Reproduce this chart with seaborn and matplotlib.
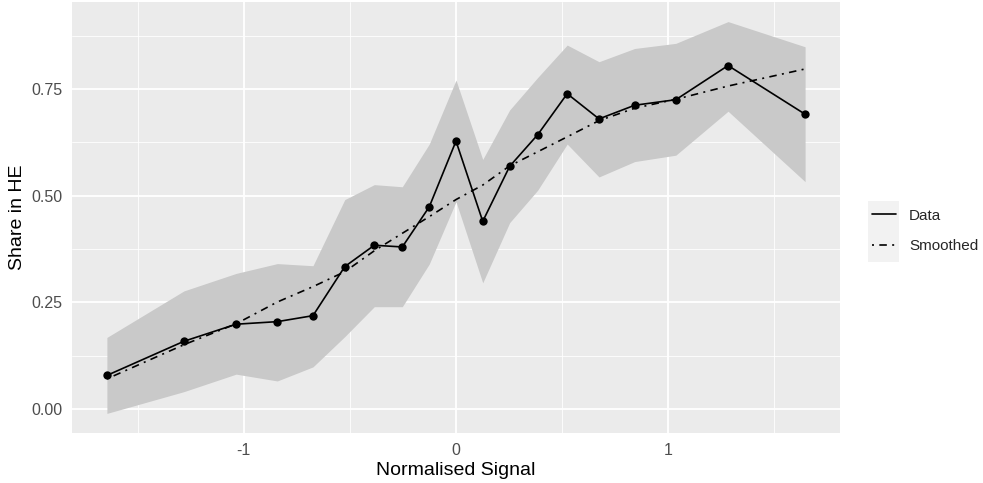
import numpy as np
import pandas as pd
import seaborn as sns
import matplotlib.pyplot as plt
from matplotlib.lines import Line2D
from matplotlib.patches import Rectangle

signal = [-1.645, -1.282, -1.036, -0.842, -0.674, -0.524, -0.385, -0.253, -0.126, 0.0,
          0.126, 0.253, 0.385, 0.524, 0.674, 0.842, 1.036, 1.282, 1.645]
share = [0.079, 0.159, 0.199, 0.205, 0.219, 0.334, 0.384, 0.380, 0.474, 0.628,
         0.440, 0.569, 0.643, 0.739, 0.680, 0.712, 0.725, 0.805, 0.691]
smoothed = [0.071, 0.151, 0.200, 0.251, 0.287, 0.322, 0.371, 0.412, 0.451, 0.491,
            0.525, 0.570, 0.603, 0.638, 0.676, 0.705, 0.726, 0.757, 0.797]
lower = [-0.010, 0.041, 0.082, 0.066, 0.099, 0.170, 0.240, 0.240, 0.340, 0.486,
         0.296, 0.437, 0.513, 0.621, 0.544, 0.580, 0.595, 0.698, 0.533]
upper = [0.168, 0.277, 0.318, 0.341, 0.336, 0.491, 0.526, 0.521, 0.621, 0.771,
         0.585, 0.701, 0.777, 0.853, 0.814, 0.845, 0.857, 0.908, 0.849]
x_ticks = [-1, 0, 1]
y_ticks = [0.0, 0.25, 0.5, 0.75]

df = pd.DataFrame({"signal": signal, "share": share, "smoothed": smoothed,
                   "lower": lower, "upper": upper})

sns.set_style("darkgrid", {"axes.facecolor": "#EBEBEB", "grid.color": "white"})
plt.rcParams['font.family'] = ['Liberation Sans', 'DejaVu Sans']

fig = plt.figure(figsize=(9.83, 4.83), dpi=100)
ax = fig.add_axes([72/983, 1 - 433/483, 768/983, 431/483])

ax.fill_between(df["signal"], df["lower"], df["upper"], color="#C9C9C9", lw=0, zorder=1)
dotdash = (0, (1.2, 3.2, 4.5, 3.2))
sns.lineplot(data=df, x="signal", y="smoothed", color="black", lw=1.2,
             linestyle=dotdash, ax=ax, zorder=3)
sns.lineplot(data=df, x="signal", y="share", color="black", lw=1.2, ax=ax, zorder=4)
sns.scatterplot(data=df, x="signal", y="share", color="black", s=36,
                edgecolor="black", linewidth=0, ax=ax, zorder=5)

xr = max(signal) - min(signal)
ax.set_xlim(min(signal) - 0.05 * xr, max(signal) + 0.05 * xr)
yr = max(upper) - min(lower)
ax.set_ylim(min(lower) - 0.05 * yr, max(upper) + 0.05 * yr)

ax.set_xticks(x_ticks)
ax.set_xticklabels([str(t) for t in x_ticks])
ax.set_yticks(y_ticks)
ax.set_yticklabels([f"{t:.2f}" for t in y_ticks])
ax.set_xticks([-1.5, -0.5, 0.5, 1.5], minor=True)
ax.set_yticks([0.125, 0.375, 0.625, 0.875], minor=True)
ax.grid(which="major", color="white", lw=1.3)
ax.grid(which="minor", color="white", lw=0.6)
ax.tick_params(which="major", length=4, width=0.9, color="#333333",
               labelcolor="#4D4D4D", labelsize=11.5, pad=3)
ax.tick_params(which="minor", length=0)
for s in ax.spines.values():
    s.set_visible(False)

ax.set_xlabel("Normalised Signal", fontsize=14, color="black", labelpad=3)
ax.set_ylabel("Share in HE", fontsize=14, color="black", labelpad=4)

fig.patches.append(Rectangle((868/983, 1 - 262/483), 31/983, 61/483,
                             transform=fig.transFigure, facecolor="#F2F2F2",
                             edgecolor="none", zorder=0))
handles = [Line2D([], [], color="black", lw=1.2),
           Line2D([], [], color="black", lw=1.2, linestyle=dotdash)]
fig.legend(handles, ["Data", "Smoothed"], loc="center left",
           bbox_to_anchor=(872/983, 1 - 231/483), frameon=False, fontsize=11,
           borderpad=0, borderaxespad=0, handlelength=1.57, handletextpad=0.85,
           labelspacing=1.1)

fig.savefig("out.png", dpi=100)
